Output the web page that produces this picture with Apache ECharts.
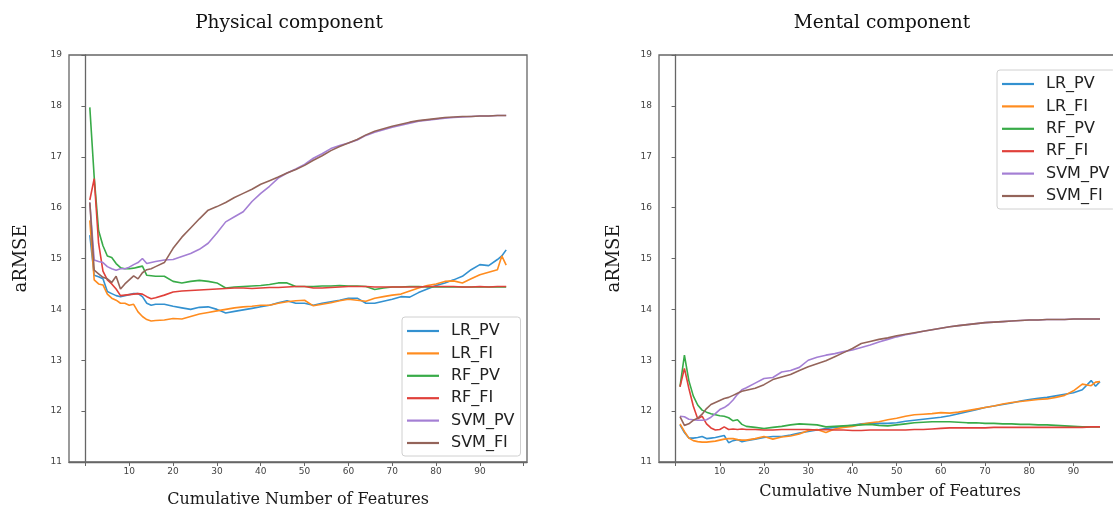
<!DOCTYPE html>
<html>
<head>
<meta charset="utf-8">
<script src="https://cdn.jsdelivr.net/npm/echarts@6/dist/echarts.min.js"></script>
<style>
  html, body { margin: 0; padding: 0; background: #fff; }
  #chart { width: 1113px; height: 507px; }
</style>
</head>
<body>
<div id="chart"></div>
<script>
// x positions (cumulative number of features)
const xs = [1, 2, 3, 4, 5, 6, 7, 8, 9, 10, 11, 12, 13, 14, 15, 16,
  18, 20, 22, 24, 26, 28, 30, 32, 34, 36, 38, 40, 42, 44, 46, 48, 50, 52, 54, 56, 58, 60,
  62, 64, 66, 68, 70, 72, 74, 76, 78, 80, 82, 84, 86, 88, 90, 92, 94, 95, 96];

const seriesNames = ['LR_PV', 'LR_FI', 'RF_PV', 'RF_FI', 'SVM_PV', 'SVM_FI'];
const colors = ['#3391d0', '#ff8c1f', '#38ab48', '#e0403a', '#a47fd4', '#94645a'];

const xTickValues = [0, 10, 20, 30, 40, 50, 60, 70, 80, 90, 100];
const xLabelValues = [10, 20, 30, 40, 50, 60, 70, 80, 90];

// Physical component
const phyLR_PV = [15.46, 14.67, 14.64, 14.6, 14.35, 14.31, 14.27, 14.25, 14.27, 14.29, 14.31, 14.31, 14.25, 14.12, 14.08, 14.1,
  14.1, 14.06, 14.03, 14.0, 14.04, 14.05, 14.0, 13.93, 13.96, 13.99, 14.02, 14.05, 14.08, 14.13, 14.17, 14.12, 14.12, 14.08, 14.12, 14.15, 14.18, 14.22,
  14.22, 14.12, 14.12, 14.16, 14.2, 14.25, 14.24, 14.33, 14.4, 14.47, 14.52, 14.58, 14.65, 14.78, 14.88, 14.86, 14.98, 15.05, 15.17];
const phyLR_FI = [15.75, 14.58, 14.5, 14.48, 14.3, 14.22, 14.18, 14.12, 14.12, 14.08, 14.1, 13.95, 13.86, 13.8, 13.77, 13.78,
  13.79, 13.82, 13.81, 13.86, 13.91, 13.94, 13.97, 14.0, 14.03, 14.05, 14.06, 14.08, 14.08, 14.12, 14.15, 14.17, 14.18, 14.07, 14.1, 14.13, 14.17, 14.2,
  14.18, 14.16, 14.22, 14.25, 14.28, 14.3, 14.36, 14.42, 14.47, 14.5, 14.55, 14.56, 14.52, 14.6, 14.68, 14.73, 14.78, 15.05, 14.87];
const phyRF_PV = [17.97, 16.6, 15.55, 15.25, 15.05, 15.02, 14.9, 14.82, 14.8, 14.8, 14.81, 14.83, 14.85, 14.67, 14.66, 14.65,
  14.65, 14.55, 14.52, 14.55, 14.57, 14.55, 14.52, 14.42, 14.44, 14.45, 14.46, 14.47, 14.49, 14.52, 14.52, 14.45, 14.45, 14.45, 14.46, 14.46, 14.47, 14.46,
  14.46, 14.45, 14.39, 14.42, 14.44, 14.44, 14.45, 14.45, 14.44, 14.44, 14.44, 14.44, 14.44, 14.44, 14.44, 14.44, 14.44, 14.44, 14.44];
const phyRF_FI = [16.15, 16.57, 15.3, 14.75, 14.58, 14.5, 14.4, 14.27, 14.28, 14.29, 14.3, 14.31, 14.3, 14.25, 14.21, 14.23,
  14.28, 14.34, 14.36, 14.37, 14.38, 14.39, 14.4, 14.41, 14.42, 14.42, 14.41, 14.42, 14.43, 14.43, 14.44, 14.45, 14.45, 14.42, 14.42, 14.43, 14.44, 14.45,
  14.45, 14.45, 14.44, 14.44, 14.44, 14.44, 14.44, 14.44, 14.45, 14.45, 14.45, 14.45, 14.44, 14.44, 14.45, 14.44, 14.45, 14.45, 14.45];
const phySVM_PV = [16.1, 14.97, 14.94, 14.92, 14.84, 14.8, 14.77, 14.8, 14.8, 14.83, 14.88, 14.92, 15.0, 14.9, 14.92, 14.94,
  14.97, 14.98, 15.04, 15.1, 15.18, 15.3, 15.5, 15.72, 15.82, 15.92, 16.12, 16.28, 16.42, 16.58, 16.68, 16.76, 16.85, 16.97, 17.06, 17.16, 17.22, 17.27,
  17.33, 17.42, 17.48, 17.53, 17.58, 17.62, 17.66, 17.7, 17.72, 17.74, 17.76, 17.77, 17.78, 17.79, 17.8, 17.8, 17.81, 17.81, 17.81];
const phySVM_FI = [16.1, 14.77, 14.7, 14.63, 14.6, 14.53, 14.65, 14.4, 14.5, 14.58, 14.66, 14.6, 14.72, 14.78, 14.8, 14.84,
  14.92, 15.2, 15.42, 15.6, 15.78, 15.95, 16.02, 16.1, 16.2, 16.28, 16.36, 16.46, 16.53, 16.6, 16.68, 16.75, 16.83, 16.93, 17.02, 17.12, 17.2, 17.27,
  17.34, 17.43, 17.5, 17.55, 17.6, 17.64, 17.68, 17.71, 17.73, 17.75, 17.77, 17.78, 17.79, 17.79, 17.8, 17.8, 17.81, 17.81, 17.81];

// Mental component
const menLR_PV = [11.73, 11.58, 11.47, 11.47, 11.48, 11.5, 11.46, 11.47, 11.48, 11.5, 11.52, 11.38, 11.42, 11.44, 11.4, 11.42,
  11.45, 11.48, 11.5, 11.5, 11.53, 11.57, 11.6, 11.63, 11.66, 11.68, 11.7, 11.72, 11.75, 11.76, 11.76, 11.76, 11.77, 11.8, 11.82, 11.84, 11.86, 11.88,
  11.91, 11.95, 11.99, 12.03, 12.07, 12.1, 12.13, 12.16, 12.2, 12.23, 12.25, 12.27, 12.3, 12.33, 12.36, 12.42, 12.6, 12.49, 12.58];
const menLR_FI = [11.75, 11.6, 11.47, 11.42, 11.4, 11.39, 11.39, 11.4, 11.41, 11.43, 11.45, 11.46, 11.46, 11.44, 11.43, 11.43,
  11.46, 11.5, 11.45, 11.49, 11.51, 11.55, 11.62, 11.64, 11.58, 11.65, 11.68, 11.7, 11.74, 11.77, 11.79, 11.83, 11.86, 11.9, 11.93, 11.94, 11.95, 11.97,
  11.96, 11.98, 12.01, 12.04, 12.07, 12.1, 12.14, 12.17, 12.19, 12.21, 12.23, 12.24, 12.27, 12.31, 12.4, 12.53, 12.5, 12.57, 12.58];
const menRF_PV = [12.48, 13.1, 12.6, 12.3, 12.12, 12.02, 11.98, 11.95, 11.93, 11.91, 11.9, 11.87, 11.81, 11.83, 11.74, 11.7,
  11.68, 11.66, 11.68, 11.7, 11.73, 11.75, 11.74, 11.73, 11.69, 11.7, 11.71, 11.72, 11.73, 11.74, 11.72, 11.71, 11.73, 11.75, 11.77, 11.78, 11.79, 11.79,
  11.79, 11.78, 11.77, 11.77, 11.76, 11.76, 11.75, 11.75, 11.74, 11.74, 11.73, 11.73, 11.72, 11.71, 11.7, 11.69, 11.69, 11.69, 11.69];
const menRF_FI = [12.48, 12.84, 12.45, 12.1, 11.85, 11.9, 11.75, 11.67, 11.63, 11.64, 11.69, 11.64, 11.65, 11.64, 11.65, 11.64,
  11.64, 11.63, 11.63, 11.64, 11.64, 11.64, 11.64, 11.63, 11.64, 11.63, 11.63, 11.62, 11.62, 11.63, 11.63, 11.63, 11.63, 11.63, 11.64, 11.64, 11.65, 11.66,
  11.67, 11.67, 11.67, 11.67, 11.67, 11.68, 11.68, 11.68, 11.68, 11.68, 11.68, 11.68, 11.68, 11.68, 11.68, 11.68, 11.69, 11.69, 11.69];
const menSVM_PV = [11.9, 11.89, 11.84, 11.83, 11.82, 11.82, 11.83, 11.88, 11.95, 12.03, 12.07, 12.13, 12.22, 12.33, 12.42, 12.46,
  12.55, 12.64, 12.66, 12.77, 12.8, 12.86, 13.0, 13.06, 13.1, 13.13, 13.17, 13.2, 13.25, 13.3, 13.36, 13.41, 13.46, 13.5, 13.53, 13.57, 13.6, 13.63,
  13.66, 13.68, 13.7, 13.72, 13.74, 13.75, 13.76, 13.77, 13.78, 13.79, 13.79, 13.8, 13.8, 13.8, 13.81, 13.81, 13.81, 13.81, 13.81];
const menSVM_FI = [11.89, 11.72, 11.75, 11.82, 11.86, 11.94, 12.05, 12.13, 12.17, 12.21, 12.25, 12.27, 12.31, 12.35, 12.39, 12.41,
  12.45, 12.52, 12.62, 12.67, 12.72, 12.8, 12.87, 12.93, 12.99, 13.07, 13.15, 13.23, 13.33, 13.37, 13.41, 13.44, 13.48, 13.51, 13.54, 13.57, 13.6, 13.63,
  13.66, 13.68, 13.7, 13.72, 13.74, 13.75, 13.76, 13.77, 13.78, 13.79, 13.79, 13.8, 13.8, 13.8, 13.81, 13.81, 13.81, 13.81, 13.81];

const physical = [phyLR_PV, phyLR_FI, phyRF_PV, phyRF_FI, phySVM_PV, phySVM_FI];
const mental = [menLR_PV, menLR_FI, menRF_PV, menRF_FI, menSVM_PV, menSVM_FI];

const axisColor = '#666';
const serif = '"DejaVu Serif", serif';
const sans = '"DejaVu Sans", sans-serif';

function makeX(gridIndex, nameGap) {
  return {
    type: 'value',
    gridIndex: gridIndex,
    min: -3.75,
    max: 100.75,
    name: 'Cumulative Number of Features',
    nameLocation: 'middle',
    nameGap: nameGap,
    nameTextStyle: { fontFamily: serif, fontSize: 16, color: '#1a1a1a' },
    axisLine: { lineStyle: { color: axisColor, width: 1.3 } },
    axisTick: { length: 4, lineStyle: { color: axisColor }, customValues: xTickValues },
    axisLabel: { fontFamily: sans, fontSize: 9, color: '#444', margin: 5, customValues: xLabelValues },
    splitLine: { show: false }
  };
}

function makeY(gridIndex, nameGap) {
  return {
    type: 'value',
    gridIndex: gridIndex,
    min: 11,
    max: 19,
    interval: 1,
    name: 'aRMSE',
    nameLocation: 'middle',
    nameGap: nameGap,
    nameTextStyle: { fontFamily: serif, fontSize: 18, color: '#1a1a1a' },
    axisLine: { show: true, lineStyle: { color: axisColor, width: 1.3 } },
    axisTick: { show: true, length: 4, lineStyle: { color: axisColor } },
    axisLabel: { fontFamily: sans, fontSize: 9, color: '#444', margin: 7 },
    splitLine: { show: false }
  };
}

function makeLegend(left, top) {
  return {
    data: seriesNames,
    orient: 'vertical',
    left: left,
    top: top,
    icon: 'rect',
    padding: [6, 6, 5, 5],
    itemWidth: 32,
    itemHeight: 2.2,
    itemGap: 6.4,
    backgroundColor: 'rgba(255,255,255,0.85)',
    borderColor: '#d0d0d0',
    borderWidth: 1,
    borderRadius: 3,
    textStyle: { fontFamily: sans, fontSize: 16, color: '#222', padding: [0, 0, 0, 7] }
  };
}

const series = [];
[physical, mental].forEach(function (panel, p) {
  panel.forEach(function (vals, i) {
    series.push({
      name: seriesNames[i],
      type: 'line',
      xAxisIndex: p,
      yAxisIndex: p,
      symbol: 'none',
      showSymbol: false,
      color: colors[i],
      lineStyle: { width: 1.6, color: colors[i] },
      data: xs.map(function (x, k) { return [x, vals[k]]; })
    });
  });
});

const chart = echarts.init(document.getElementById('chart'));
chart.setOption({
  animation: false,
  backgroundColor: '#fff',
  graphic: [
    { type: 'text', x: 289, y: 23, style: { text: 'Physical component', font: '18.5px "DejaVu Serif"', fill: '#111', align: 'center', verticalAlign: 'middle' } },
    { type: 'text', x: 882, y: 23, style: { text: 'Mental component', font: '18.5px "DejaVu Serif"', fill: '#111', align: 'center', verticalAlign: 'middle' } }
  ],
  grid: [
    { left: 69, top: 55, width: 458, height: 407, outerBoundsMode: 'none', containLabel: false, show: true, borderColor: axisColor, borderWidth: 1.3, backgroundColor: 'transparent' },
    { left: 659, top: 55, width: 462, height: 407, outerBoundsMode: 'none', containLabel: false, show: true, borderColor: axisColor, borderWidth: 1.3, backgroundColor: 'transparent' }
  ],
  xAxis: [makeX(0, 30), makeX(1, 22)],
  yAxis: [makeY(0, 39), makeY(1, 36)],
  legend: [makeLegend(402, 317), makeLegend(997, 70)],
  series: series
});
</script>
</body>
</html>
